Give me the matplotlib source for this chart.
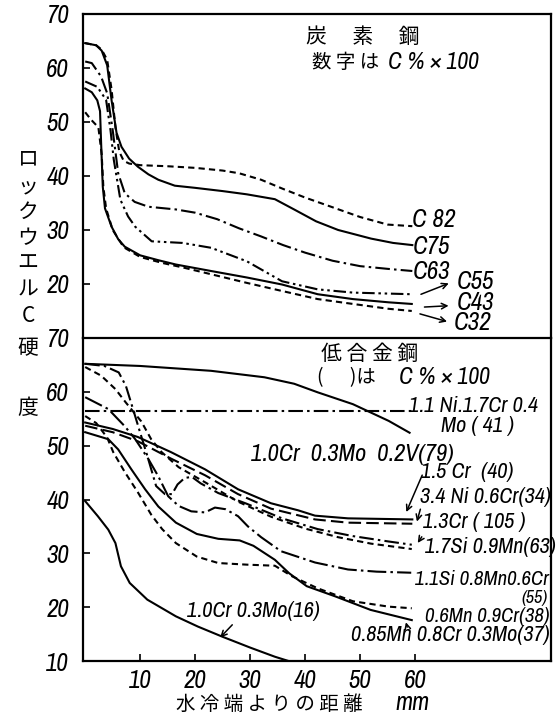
import matplotlib.pyplot as plt

plt.rcParams['font.family'] = ['Archivo Narrow', 'DejaVu Sans']
CJK = ['Noto Sans CJK JP', 'DejaVu Sans']

# ---- carbon steels (upper panel) ----
c82_x = [0, 2, 3, 4, 4.8, 5.5, 6.2, 7, 8, 10, 15, 20, 25, 28, 32, 36, 40, 45, 50, 55, 59.5]
c82_y = [64.6, 64.2, 63.4, 61.5, 56, 49, 44.5, 42.8, 42.3, 42.0, 41.8, 41.5, 41.0, 40.5, 39.3, 37.6, 36.0, 34.2, 32.4, 31.0, 30.7]
c75_x = [0, 2, 3, 4, 4.8, 5.7, 6.6, 8, 9.6, 11.5, 13.3, 16.3, 20, 25, 29.4, 34.5, 38, 42, 46, 52, 56, 59.5]
c75_y = [64.6, 64.2, 63.2, 60.5, 54, 48, 45.4, 43.2, 41.7, 40.3, 39.3, 38.2, 37.8, 37.2, 36.6, 35.7, 33.8, 31.6, 30.0, 28.4, 27.6, 27.2]
c63_x = [0, 1.2, 2.9, 4.0, 5.0, 6.0, 7.2, 9, 11.5, 16.5, 20, 24, 28, 32, 36, 40, 45, 50, 55, 59.5]
c63_y = [61.2, 60.9, 58.4, 55.3, 48.5, 40.5, 36.8, 35.2, 34.3, 33.8, 33.2, 32.0, 30.3, 28.8, 27.2, 25.8, 24.3, 23.3, 22.8, 22.4]
c55_x = [0, 2.2, 3.8, 4.6, 5.2, 6.4, 7.8, 9.1, 12.1, 17.7, 22.9, 29.4, 35.8, 42.3, 48.7, 59.4]
c55_y = [57.5, 56.5, 54.1, 48.5, 43.0, 35.6, 32.5, 30.6, 27.9, 27.6, 26.7, 24.2, 20.5, 19.0, 18.4, 18.1]
c43_x = [0, 1.2, 2.2, 2.7, 2.9, 3.2, 3.6, 4.8, 6, 7.2, 10, 13.3, 16.5, 22.9, 29.4, 35.8, 42.3, 48.7, 55.2, 59.4]
c43_y = [56.2, 55.5, 54, 52, 46, 38, 34, 30.6, 28.3, 26.9, 25.3, 24.4, 23.6, 22.4, 21.2, 19.9, 18.1, 17.2, 16.6, 16.3]
c32_x = [0, 1, 2.4, 3.0, 3.3, 3.8, 5, 7, 10, 14, 18, 22.9, 29.4, 35.8, 42.3, 48.7, 55.2, 59.4]
c32_y = [51.8, 50.5, 49.0, 44, 38, 34, 30.0, 26.8, 25.0, 23.9, 23.0, 21.8, 20.2, 18.7, 17.2, 16.3, 15.4, 15.0]

# ---- low alloy steels (lower panel) ----
v79_x = [0, 10, 22.9, 32.6, 38, 42.3, 48.7, 55.2, 59]
v79_y = [65.2, 64.8, 63.9, 62.7, 61.5, 59.9, 57.7, 54.6, 52.4]
ni41_x = [0, 59.5]
ni41_y = [56.4, 56.4]
cr40_x = [0, 5, 9.6, 15.6, 21.8, 27.8, 33.8, 38.7, 41.8, 47.8, 59.5]
cr40_y = [54.3, 53.1, 51.6, 48.8, 45.6, 41.9, 39.3, 38.0, 37.0, 36.5, 36.3]
ni34_x = [0, 5, 9.6, 15.6, 21.8, 27.8, 33.8, 41.8, 47.8, 59.5]
ni34_y = [53.7, 52.5, 50.8, 47.6, 44.5, 41.0, 38.3, 36.3, 35.7, 35.5]
cr105_x = [0, 3.5, 6.1, 7.4, 8.7, 10, 11.3, 12.9, 14.5, 15.8, 16.8, 18.1, 19.4, 21, 24.2, 29.4, 35.8, 42.3, 48.7, 55.2, 59.4]
cr105_y = [65.2, 64.8, 63.6, 61.1, 56.8, 52.4, 48.1, 42.5, 41.0, 41.0, 42.8, 44.0, 44.2, 43.0, 41.2, 39.2, 36.5, 34.5, 33.2, 32.2, 31.6]
si63_x = [0, 2.9, 5.5, 7.4, 9, 10.2, 12, 13.9, 17, 21.8, 27.8, 33.8, 40, 46, 52, 59.4]
si63_y = [64.6, 63.0, 60.5, 58.0, 56, 54.5, 51.2, 48.8, 46, 43.2, 39.6, 36.8, 34.6, 33.0, 31.8, 30.8]
si55_x = [0, 4.2, 7.2, 9.1, 11.5, 13.3, 15.1, 17, 19.3, 21.8, 23.6, 25.5, 27.8, 29.6, 32, 35.6, 41.8, 47.8, 53, 59.3]
si55_y = [59.0, 56.8, 53.6, 51.2, 47.5, 44.3, 40.6, 38.8, 37.8, 37.6, 38.5, 38.2, 36.9, 35.0, 33.0, 30.4, 28.3, 27.0, 26.6, 26.4]
mn38_x = [0, 2, 4, 5.1, 7.2, 9.6, 12, 14, 16.5, 20.3, 24.2, 29.4, 34.5, 37.7, 42.3, 48.7, 55.2, 59.4]
mn38_y = [55.5, 54.2, 51.5, 48.8, 45.1, 41.3, 37.2, 34.5, 31.9, 29.4, 28.2, 27.9, 27.7, 25.7, 23.5, 21.1, 20.1, 19.8]
mn37_x = [0, 4.2, 6, 8.4, 10.9, 13.3, 16.5, 20.3, 24.2, 28.1, 30.6, 34.5, 37.1, 40.3, 45.5, 51.9, 59.4]
mn37_y = [52.5, 51.2, 49.3, 45.6, 41.9, 38.7, 35.7, 33.6, 32.7, 32.4, 31.4, 28.8, 26.3, 23.9, 22.0, 19.5, 17.6]
mo16_x = [0, 2.3, 4.2, 5.5, 6.5, 8.1, 11.3, 16.5, 20.5, 25, 30, 34.5, 37]
mo16_y = [39.7, 36.9, 34.4, 31.9, 27.6, 24.5, 21.4, 18.3, 16.4, 14.5, 12.5, 10.8, 10.0]

top_labels = ['C 82', 'C75', 'C63', 'C55', 'C43', 'C32']
x_ticks = [10, 20, 30, 40, 50, 60]

short = (0, (3, 2))
dashdot = (0, (7, 2, 1.2, 2))
dashdotdot = (0, (6, 1.8, 1.2, 1.8, 1.2, 1.8))
longdash = (0, (6, 2.5))
lw = 1.5

fig = plt.figure(figsize=(5.57, 7.2), dpi=100)
ax1 = fig.add_axes([0.149, 0.5306, 0.840, 0.4500])
ax2 = fig.add_axes([0.149, 0.0819, 0.840, 0.4487])

for ax in (ax1, ax2):
    ax.set_xlim(-0.4, 84.7)
    ax.set_ylim(10, 70)
    for s in ax.spines.values():
        s.set_linewidth(1.6)
    ax.tick_params(direction='in', length=5, width=1.2, labelsize=18, pad=10)

ax1.spines['bottom'].set_visible(False)
ax1.set_xticks([])
ax1.set_yticks([20, 30, 40, 50, 60, 70])
ax1.set_yticklabels(['20', '30', '40', '50', '60', '70'], style='italic')

ax2.set_yticks([10, 20, 30, 40, 50, 60, 70])
ax2.set_yticklabels(['10', '20', '30', '40', '50', '60', '70'], style='italic')
ax2.set_xticks(x_ticks)
ax2.set_xticklabels([str(v) for v in x_ticks], style='italic')
ax2.tick_params(axis='x', pad=6)

# upper panel curves
ax1.plot(c82_x, c82_y, color='k', lw=lw, ls=short)
ax1.plot(c75_x, c75_y, color='k', lw=lw)
ax1.plot(c63_x, c63_y, color='k', lw=lw, ls=dashdot)
ax1.plot(c55_x, c55_y, color='k', lw=lw, ls=dashdotdot)
ax1.plot(c43_x, c43_y, color='k', lw=lw)
ax1.plot(c32_x, c32_y, color='k', lw=lw, ls=short)

lab_kw = dict(fontsize=18, style='italic', ha='left', va='center')
ax1.text(59.5, 31.9, top_labels[0], **lab_kw)
ax1.text(59.5, 26.9, top_labels[1], **lab_kw)
ax1.text(59.5, 22.4, top_labels[2], **lab_kw)
ax1.text(67.5, 20.4, top_labels[3], **lab_kw)
ax1.text(67.5, 16.5, top_labels[4], **lab_kw)
ax1.text(67.1, 12.8, top_labels[5], **lab_kw)
arr = dict(arrowstyle='->', lw=1.1, color='k')
ax1.annotate('', xy=(66.6, 20.3), xytext=(60.6, 17.9), arrowprops=arr)
ax1.annotate('', xy=(66.6, 16.0), xytext=(61.2, 15.7), arrowprops=arr)
ax1.annotate('', xy=(66.3, 12.9), xytext=(60.4, 14.6), arrowprops=arr)

ax1.text(0.476, 0.929, '炭　 素　 鋼', transform=ax1.transAxes, family=CJK,
         fontsize=15, ha='left', va='center')
ax1.text(0.490, 0.849, '数 字 は', transform=ax1.transAxes, family=CJK,
         fontsize=14, ha='left', va='center')
ax1.text(0.652, 0.849, 'C % × 100', transform=ax1.transAxes,
         fontsize=17, style='italic', ha='left', va='center')

# lower panel curves
ax2.plot(v79_x, v79_y, color='k', lw=lw)
ax2.plot(ni41_x, ni41_y, color='k', lw=lw, ls=dashdot)
ax2.plot(cr40_x, cr40_y, color='k', lw=lw)
ax2.plot(ni34_x, ni34_y, color='k', lw=lw, ls=longdash)
ax2.plot(cr105_x, cr105_y, color='k', lw=lw, ls=dashdot)
ax2.plot(si63_x, si63_y, color='k', lw=lw, ls=short)
ax2.plot(si55_x, si55_y, color='k', lw=lw, ls=(0, (9, 2, 1.2, 2)))
ax2.plot(mn38_x, mn38_y, color='k', lw=lw, ls=short)
ax2.plot(mn37_x, mn37_y, color='k', lw=lw)
ax2.plot(mo16_x, mo16_y, color='k', lw=lw)

lab2 = dict(fontsize=16, style='italic', ha='left', va='center')
ax2.text(58.9, 57.3, '1.1 Ni.1.7Cr 0.4', **lab2)
ax2.text(64.7, 53.6, 'Mo ( 41 )', **lab2)
ax2.text(30.2, 48.4, '1.0Cr  0.3Mo  0.2V(79)', fontsize=17.5, style='italic',
         ha='left', va='center')
ax2.text(61.1, 45.2, '1.5 Cr  (40)', **lab2)
ax2.text(60.9, 40.4, '3.4 Ni 0.6Cr(34)', **lab2)
ax2.text(61.5, 35.9, '1.3Cr ( 105 )', **lab2)
ax2.text(61.8, 31.1, '1.7Si 0.9Mn(63)', **lab2)
ax2.text(60.0, 25.2, '1.1Si 0.8Mn0.6Cr', fontsize=15, style='italic',
         ha='left', va='center')
ax2.text(84.2, 21.7, '(55)', fontsize=13, style='italic', ha='right',
         va='center')
ax2.text(61.8, 18.2, '0.6Mn 0.9Cr(38)', fontsize=15, style='italic',
         ha='left', va='center')
ax2.text(48.4, 14.8, '0.85Mn 0.8Cr 0.3Mo(37)', **lab2)
ax2.text(18.5, 19.3, '1.0Cr 0.3Mo(16)', **lab2)
ax2.annotate('', xy=(58.2, 37.2), xytext=(61.5, 45.0), arrowprops=arr)
ax2.annotate('', xy=(60.2, 35.4), xytext=(61.1, 38.7), arrowprops=arr)
ax2.annotate('', xy=(60.2, 31.5), xytext=(61.5, 33.5), arrowprops=arr)
ax2.annotate('', xy=(58.2, 17.7), xytext=(58.7, 15.8), arrowprops=arr)
ax2.annotate('', xy=(24.2, 14.0), xytext=(27.1, 17.1), arrowprops=arr)

ax2.text(0.508, 0.949, '低 合 金 鋼', transform=ax2.transAxes, family=CJK,
         fontsize=15, ha='left', va='center')
ax2.text(0.500, 0.878, '(      )は', transform=ax2.transAxes, family=CJK,
         fontsize=14, ha='left', va='center')
ax2.text(0.675, 0.878, 'C % × 100', transform=ax2.transAxes,
         fontsize=17, style='italic', ha='left', va='center')

# vertical y-axis title, one character per row
ylab_chars = ['ロ', 'ッ', 'ク', 'ウ', 'エ', 'ル', 'C', '硬', '度']
ylab_rows = [158, 186, 212, 238, 263, 289, 316, 348, 408]
for ch, yp in zip(ylab_chars, ylab_rows):
    fig.text(28 / 557, 1 - yp / 720, ch, family=CJK, fontsize=15,
             ha='center', va='center')

fig.text(176 / 557, 1 - 704 / 720, '水 冷 端 よ り の 距 離', family=CJK,
         fontsize=14, ha='left', va='center')
fig.text(413 / 557, 1 - 703 / 720, 'mm', fontsize=18, style='italic',
         ha='center', va='center')

fig.savefig('out.png', dpi=100)
